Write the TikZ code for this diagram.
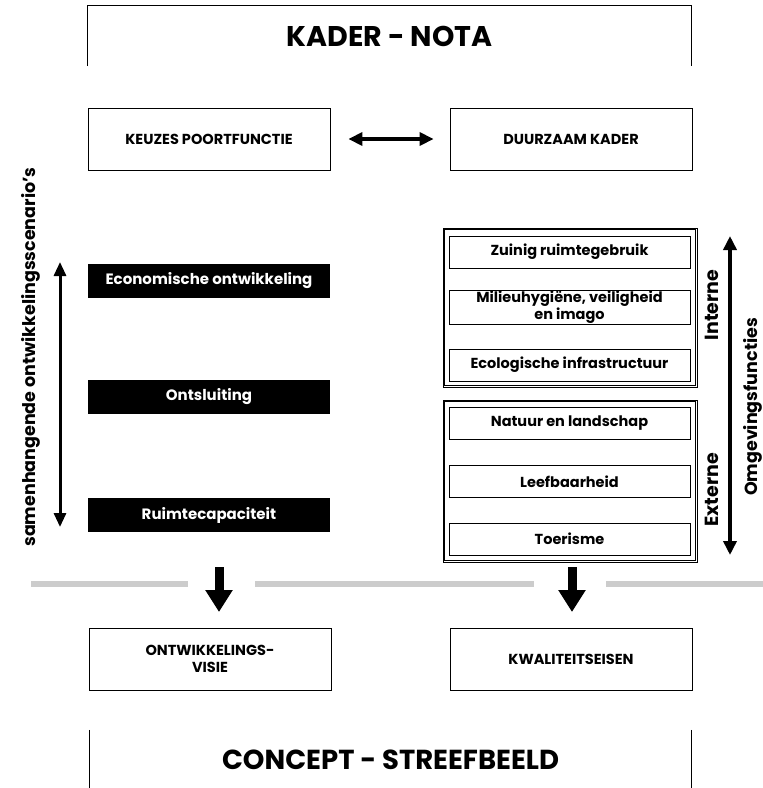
\documentclass[tikz,border=0pt]{standalone}
\usepackage{fontspec}
\setmainfont{Poppins}
\usetikzlibrary{arrows.meta}

\begin{document}
\begin{tikzpicture}[x=1pt, y=-1pt, line join=miter,
    kop/.style={font=\fontsize{28.5}{30}\selectfont\bfseries},
    kader/.style={draw, line width=0.8pt, minimum width=242pt, minimum height=62pt,
      align=center, font=\fontsize{14.5}{17}\selectfont\bfseries},
    zwart/.style={fill=black, text=white, minimum width=242pt, minimum height=34pt,
      font=\fontsize{15}{17}\selectfont\bfseries},
    groep/.style={draw, line width=0.7pt, minimum width=254pt},
    item/.style={draw, line width=0.8pt, minimum width=241pt, minimum height=32pt,
      inner sep=1pt, align=center, font=\fontsize{14.5}{12}\selectfont\bfseries},
    zij/.style={rotate=90, font=\fontsize{19}{20}\selectfont\bfseries},
    pijl/.style={line width=3.5pt, {Triangle[width=13pt,length=14pt]}-{Triangle[width=13pt,length=14pt]}},
    neer/.style={line width=9pt, -{Triangle[width=26pt,length=22pt]}}]
  \useasboundingbox (0,0) rectangle (763,788);

  % kop en voet, zonder onderrand / bovenrand
  \node[kop, minimum width=603pt, minimum height=60pt] (nota) at (389.5,36) {KADER - NOTA};
  \draw[line width=0.8pt] (nota.south west) -- (nota.north west) -- (nota.north east) -- (nota.south east);
  \node[kop, font=\fontsize{27.5}{30}\selectfont\bfseries, minimum width=601pt, minimum height=60pt] (concept) at (390.5,760) {CONCEPT - STREEFBEELD};
  \draw[line width=0.8pt] (concept.north west) -- (concept.south west);
  \draw[line width=0.8pt] (concept.north east) -- (concept.south east);

  \node[kader] (keuzes) at (209,139) {KEUZES POORTFUNCTIE};
  \node[kader] (duurzaam) at (571,139) {DUURZAAM KADER};
  \draw[pijl, shorten <=18pt, shorten >=16pt] (keuzes) -- (duurzaam);

  % scenario's
  \node[zwart] (eco) at (209,281) {Economische ontwikkeling};
  \node[zwart] (ontsl) at (209,397) {Ontsluiting};
  \node[zwart] (ruimte) at (209,515) {Ruimtecapaciteit};
  \coordinate (scenboven) at (60,262);
  \coordinate (scenonder) at (60,527);
  \draw[line width=3pt, {Triangle[width=12pt,length=14pt]}-{Triangle[width=12pt,length=14pt]}] (scenboven) -- (scenonder);
  \node[zij, font=\fontsize{17.5}{20}\selectfont\bfseries] (scen) at (31,357) {samenhangende ontwikkelingsscenario's};

  % omgevingsfuncties, dubbele rand
  \node[groep, minimum height=159pt] (intern) at (570,307.5) {};
  \draw[line width=0.7pt] ([shift={(2pt,-2pt)}]intern.north west) rectangle ([shift={(-2pt,2pt)}]intern.south east);
  \node[groep, minimum height=162pt] (extern) at (570,481) {};
  \draw[line width=0.7pt] ([shift={(2pt,-2pt)}]extern.north west) rectangle ([shift={(-2pt,2pt)}]extern.south east);
  \node[item] (zuinig) at (569.5,252) {Zuinig ruimtegebruik};
  \node[item] (milieu) at (569.5,307) {Milieuhygiëne, veiligheid\\en imago};
  \node[item] (ecol) at (569.5,365) {Ecologische infrastructuur};
  \node[item] (natuur) at (569.5,423.5) {Natuur en landschap};
  \node[item] (leef) at (569.5,481.5) {Leefbaarheid};
  \node[item] (toer) at (569.5,539) {Toerisme};
  \node[zij] (interne) at (712,305) {Interne};
  \node[zij] (externe) at (712,490) {Externe};
  \coordinate (omgboven) at (730,236);
  \coordinate (omgonder) at (730,555);
  \draw[pijl] (omgboven) -- (omgonder);
  \node[zij, font=\fontsize{17.5}{20}\selectfont\bfseries] (omg) at (753,407) {Omgevingsfuncties};

  % grijze lijn met pijlen
  \draw[line width=6pt, black!20] (31,584) -- (188,584);
  \draw[line width=6pt, black!20] (255,584) -- (534,584);
  \draw[line width=6pt, black!20] (606,584) -- (763,584);
  \coordinate (links) at (219,567);
  \coordinate (rechts) at (572,567);

  \node[kader] (visie) at (210,659) {ONTWIKKELINGS-\\VISIE};
  \node[kader] (eisen) at (571,659) {KWALITEITSEISEN};
  \draw[neer] (links) -- (links |- 0,612);
  \draw[neer] (rechts) -- (rechts |- 0,612);
\end{tikzpicture}
\end{document}
